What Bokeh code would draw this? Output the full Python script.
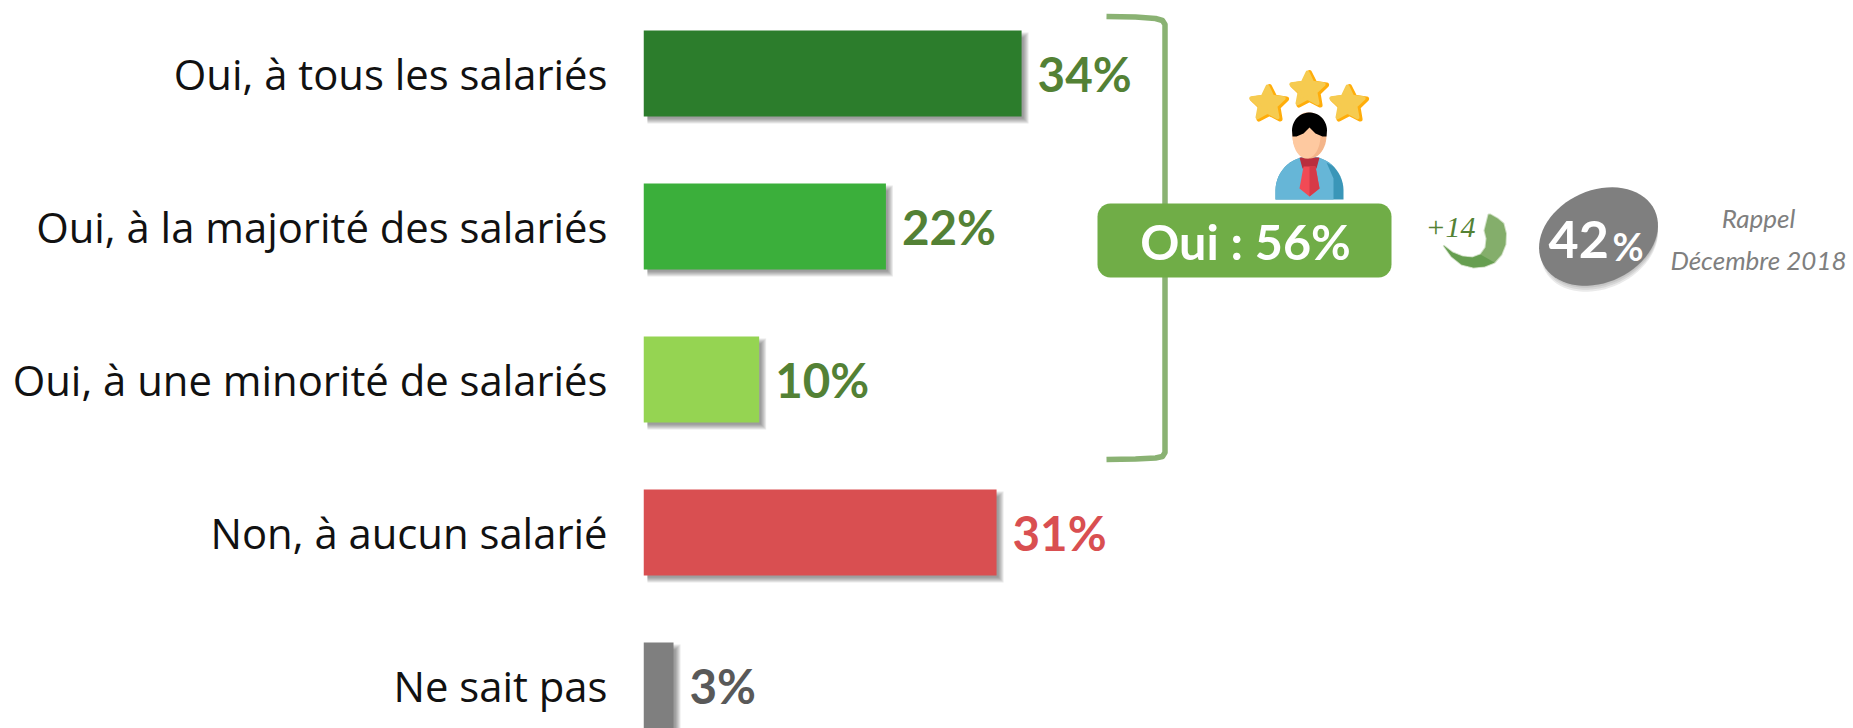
import numpy as np
from bokeh.plotting import figure
from bokeh.models import Range1d, FixedTicker
from bokeh.core.properties import value
from bokeh.embed import file_html
from bokeh.resources import INLINE

categories = ["Oui, à tous les salariés", "Oui, à la majorité des salariés",
              "Oui, à une minorité de salariés", "Non, à aucun salarié", "Ne sait pas"]
bar_lengths = [34.0, 21.8, 10.4, 31.75, 2.7]
bar_labels = ["34%", "22%", "10%", "31%", "3%"]
bar_colors = ["#2C7D2C", "#3BAF3B", "#95D452", "#D94F51", "#7F7F7F"]
label_colors = ["#538135", "#538135", "#538135", "#D94F51", "#595959"]
total_label = "Oui : 56%"
delta_label = "+14"
recall_value = "42"
recall_lines = ["Rappel", "Décembre 2018"]

W, H = 1853, 728
LEFT = 643
PX_X = 11.12
PX_Y = 153.0
BAR_H = 86 / PX_Y
pos = list(range(len(categories)))

p = figure(width=W, height=H, output_backend="svg", toolbar_location=None,
           x_range=Range1d(0, (W - LEFT) / PX_X),
           y_range=Range1d((H - 73) / PX_Y, -73 / PX_Y),
           min_border_left=LEFT, min_border_right=0, min_border_top=0, min_border_bottom=0,
           x_axis_type=None, y_axis_location="left")
p.outline_line_color = None
p.grid.visible = False
p.background_fill_color = "white"
p.extra_x_ranges["page"] = Range1d(643, W)
p.extra_y_ranges["page"] = Range1d(H, 0)
PG = dict(x_range_name="page", y_range_name="page")

ax = p.yaxis[0]
ax.ticker = FixedTicker(ticks=pos)
ax.major_label_overrides = dict(zip(pos, categories))
ax.axis_line_color = None
ax.major_tick_line_color = None
ax.minor_tick_line_color = None
ax.major_label_standoff = 30
ax.major_label_text_font = "Open Sans"
ax.major_label_text_font_size = "41.8px"
ax.major_label_text_color = "#111111"

# soft bar shadows
for e in [3, 2, 1, 0, -1, -2]:
    p.quad(left=[4 / PX_X for _ in pos],
           right=[v + (4 + e) / PX_X for v in bar_lengths],
           top=[i - BAR_H / 2 + (5 - e) / PX_Y for i in pos],
           bottom=[i + BAR_H / 2 + (4 + e) / PX_Y for i in pos],
           fill_color="#444444", fill_alpha=0.11, line_color=None)

p.hbar(y=pos, left=0, right=bar_lengths, height=BAR_H, fill_color=bar_colors, line_color=None)
p.text(x=bar_lengths, y=pos, text=bar_labels, x_offset=16, y_offset=0,
       text_font=value("Lato"), text_font_style="bold", text_font_size="47.5px",
       text_color=label_colors, text_baseline="middle", text_align="left")

# bracket
p.line([1106, 1135, 1155, 1162, 1164.5, 1164.5, 1162, 1155, 1135, 1106],
       [16, 16.5, 18, 20, 24, 452, 456, 457.5, 458.5, 459],
       line_color="#8AB273", line_width=5.5, line_join="round", **PG)

def rrect(x0, y0, x1, y1, r):
    t = np.linspace(0, np.pi / 2, 8)
    xs = np.concatenate([x1 - r + r * np.sin(t), x1 - r + r * np.cos(t), x0 + r - r * np.sin(t), x0 + r - r * np.cos(t)])
    ys = np.concatenate([y0 + r - r * np.cos(t), y1 - r + r * np.sin(t), y1 - r + r * np.cos(t), y0 + r - r * np.sin(t)])
    return xs, ys

# badge
bx, by = rrect(1097, 203, 1391, 277, 13)
p.patch(bx, by, fill_color="#70AD47", line_color=None, **PG)
p.text([1245], [240], text=[total_label], text_font=value("Lato"), text_font_style="bold",
       text_font_size="48.5px", text_color="white", text_align="center", text_baseline="middle", **PG)

# stars
def star(cx, cy, R, r=None, rot=-np.pi / 2):
    r = r or R * 0.5
    a = rot + np.arange(10) * np.pi / 5
    rad = np.where(np.arange(10) % 2 == 0, R, r)
    return cx + rad * np.cos(a), cy + rad * np.sin(a)

for cx, cy in [(1269, 104), (1309, 90), (1349, 104)]:
    sx, sy = star(cx, cy, 18)
    p.patch(sx, sy, fill_color="#FFAD0A", line_color="#FFAD0A", line_width=5, line_join="round", **PG)
    sx2, sy2 = star(cx - 2, cy - 1, 17, 8.3)
    p.patch(sx2, sy2, fill_color="#F6CB50", line_color="#F6CB50", line_width=4, line_join="round", **PG)

# person: body
t = np.linspace(np.pi, 2 * np.pi, 30)
body_x = 1309 + 34 * np.cos(t)
body_y = 190 + 34 * np.sin(t)
p.patch(np.r_[1275, body_x, 1343], np.r_[199, body_y, 199], fill_color="#3A96B8", line_color=None, **PG)
t2 = np.linspace(np.pi, 1.75 * np.pi, 24)
p.patch(np.r_[1275, 1309 + 34 * np.cos(t2), 1326, 1333, 1333],
        np.r_[199, 190 + 34 * np.sin(t2), 162, 178, 199], fill_color="#66B6D7", line_color=None, **PG)
# tie
p.patch([1299, 1319, 1316, 1302], [157, 157, 168, 168], fill_color="#B92E3E", line_color=None, **PG)
p.patch([1303, 1315, 1319, 1309, 1299], [166, 166, 188, 196, 188], fill_color="#F14A55", line_color=None, **PG)
p.patch([1309, 1315, 1319, 1309], [166, 166, 188, 196], fill_color="#D63A48", line_color=None, **PG)
# head
t3 = np.linspace(0, 2 * np.pi, 50)
p.patch(1309 + 17 * np.cos(t3), 135 + 23 * np.sin(t3), fill_color="#F4B58A", line_color=None, **PG)
p.patch(1306 + 14 * np.cos(t3), 135 + 23 * np.sin(t3), fill_color="#FEC9A0", line_color=None, **PG)
# hair
t6 = np.linspace(np.pi, 2 * np.pi, 30)
p.patch(np.r_[1309 + 17.5 * np.cos(t6), 1326, 1322, 1315, 1309, 1303, 1296, 1292],
        np.r_[130 + 18 * np.sin(t6), 136, 136, 133, 127, 133, 136, 136],
        fill_color="#000000", line_color=None, **PG)

# rotating arrow
ax_pts = [1490, 1497, 1503, 1505.5, 1505, 1501, 1494, 1484, 1473, 1461, 1451, 1443,
          1452, 1462, 1472, 1480, 1485, 1486, 1484, 1488]
ay_pts = [214, 218, 223, 233, 244, 254, 262, 266, 267, 264, 256, 245,
          252, 256, 257, 254, 247, 238, 230, 214]
p.patch(ax_pts, ay_pts, fill_color="#84AE6B", line_color="#84AE6B", line_alpha=0.4, line_width=2, **PG)
p.patch([1494, 1484, 1473, 1461, 1451, 1443, 1452, 1462, 1472, 1480],
        [262, 266, 267, 264, 256, 245, 252, 256, 257, 254],
        fill_color="#5F9A4A", fill_alpha=0.8, line_color=None, **PG)
p.text([1450], [227], text=[delta_label], text_font=value("Liberation Serif"), text_font_style="italic",
       text_font_size="30px", text_color="#548235", text_align="center", text_baseline="middle", **PG)

# recall ellipse
def tilted(cx, cy, a, b, ang):
    t = np.linspace(0, 2 * np.pi, 70)
    x, y = a * np.cos(t), b * np.sin(t)
    return cx + x * np.cos(ang) + y * np.sin(ang), cy - x * np.sin(ang) + y * np.cos(ang)

for d in [7, 5, 3, 1]:
    sx, sy = tilted(1599, 236 + d, 61, 45, np.radians(25))
    p.patch(sx, sy, fill_color="#555555", fill_alpha=0.12, line_color=None, **PG)
ex, ey = tilted(1598, 236, 62, 46, np.radians(25))
p.patch(ex, ey, fill_color="#7F7F7F", line_color=None, **PG)
p.text([1548], [239], text=[recall_value], text_font=value("Lato"), text_font_style="bold",
       text_font_size="52px", text_color="white", text_align="left", text_baseline="middle", **PG)
p.text([1612], [245], text=["%"], text_font=value("Lato"), text_font_style="bold",
       text_font_size="38px", text_color="white", text_align="left", text_baseline="middle", **PG)
p.text([1758, 1758], [217, 259], text=recall_lines, text_font=value("Lato"), text_font_style="italic",
       text_font_size="26px", text_color="#7F7F7F", text_align="center", text_baseline="middle", **PG)

open("out.html", "w").write(file_html(p, INLINE))
